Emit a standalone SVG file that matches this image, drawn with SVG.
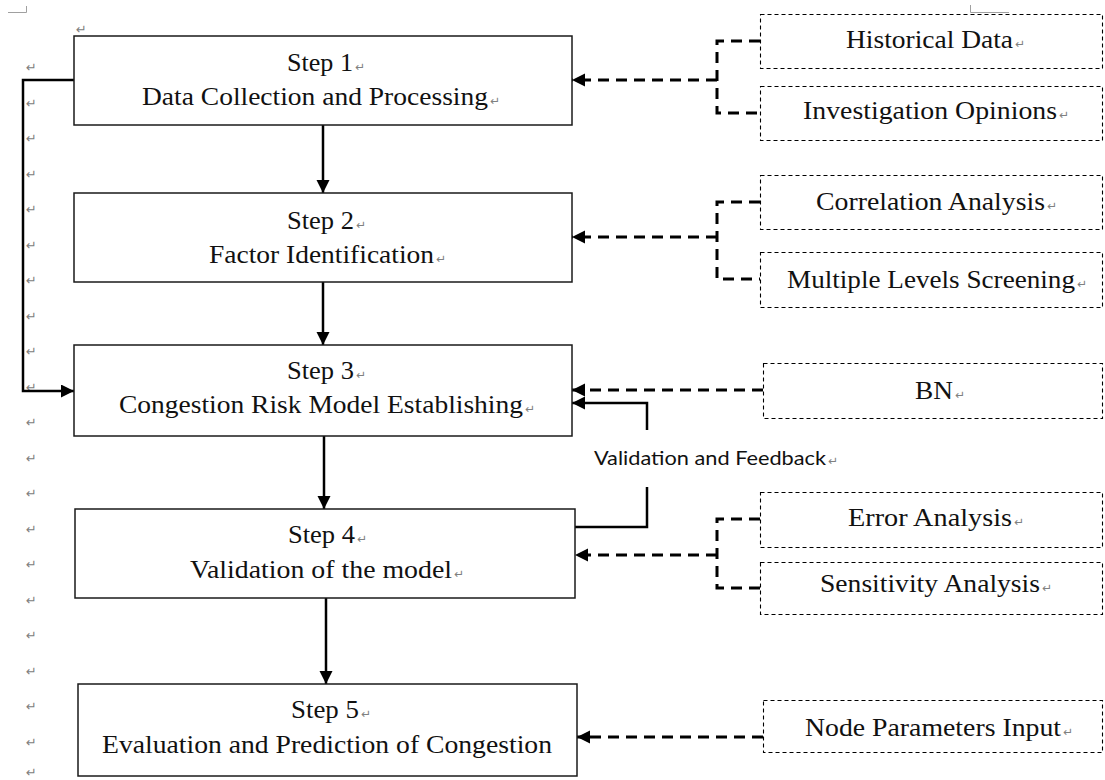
<svg xmlns="http://www.w3.org/2000/svg" width="1105" height="780" viewBox="0 0 1105 780">
  <defs>
    <style>
      .step { fill: #fff; stroke: #1a1a1a; stroke-width: 1.5; }
      .src { fill: #fff; stroke: #000; stroke-width: 1.1; stroke-dasharray: 4 3; }
      .t { font-family: "Liberation Serif", "Times New Roman", serif; font-size: 25.5px; fill: #111; }
      .pm { font-family: "DejaVu Sans", sans-serif; font-size: 12px; fill: #808080; }
      .mm { font-family: "DejaVu Sans", sans-serif; font-size: 13px; fill: #808080; }
      .lbl { font-family: Lato, "Liberation Sans", sans-serif; font-size: 20px; fill: #111; }
      .solid { fill: none; stroke: #000; stroke-width: 2.5; }
      .dash { fill: none; stroke: #000; stroke-width: 3; stroke-dasharray: 11 7; }
      .crop { fill: none; stroke: #a0a0a0; stroke-width: 1; }
    </style>
    <marker id="arrow" markerUnits="userSpaceOnUse" markerWidth="14" markerHeight="14" refX="13" refY="6.5" orient="auto">
      <path d="M0,0 L13,6.5 L0,13 Z" fill="#000"/>
    </marker>
  </defs>

  <rect width="1105" height="780" fill="#fff"/>

  <!-- page crop marks -->
  <g id="crop-marks">
    <path class="crop" d="M8,12.5 H26.5 V6"/>
    <path class="crop" d="M970.5,5 V12.5 H1009"/>
  </g>

  <!-- paragraph marks down the left margin -->
  <g id="margin-marks" class="mm">
    <text x="76" y="34">↵</text>
    <text x="26" y="72">↵</text>
    <text x="26" y="107.5">↵</text>
    <text x="26" y="143">↵</text>
    <text x="26" y="178.5">↵</text>
    <text x="26" y="214">↵</text>
    <text x="26" y="249.5">↵</text>
    <text x="26" y="285">↵</text>
    <text x="26" y="320.5">↵</text>
    <text x="26" y="356">↵</text>
    <text x="26" y="391.5">↵</text>
    <text x="26" y="427">↵</text>
    <text x="26" y="462.5">↵</text>
    <text x="26" y="498">↵</text>
    <text x="26" y="533.5">↵</text>
    <text x="26" y="569">↵</text>
    <text x="26" y="604.5">↵</text>
    <text x="26" y="640">↵</text>
    <text x="26" y="675.5">↵</text>
    <text x="26" y="711">↵</text>
    <text x="26" y="746.5">↵</text>
    <text x="26" y="777">↵</text>
  </g>

  <!-- connectors -->
  <g id="connectors">
    <!-- main flow -->
    <path class="solid" d="M323,125 V193" marker-end="url(#arrow)"/>
    <path class="solid" d="M323,282 V345" marker-end="url(#arrow)"/>
    <path class="solid" d="M324,436 V509" marker-end="url(#arrow)"/>
    <path class="solid" d="M326,598 V684" marker-end="url(#arrow)"/>
    <!-- Step 1 to Step 3 bypass -->
    <path class="solid" d="M74,80 H23 V391 H74" marker-end="url(#arrow)"/>
    <!-- validation feedback loop -->
    <path class="solid" d="M575,527 H647 V487"/>
    <path class="solid" d="M647,430 V403 H572" marker-end="url(#arrow)"/>
    <!-- inputs to Step 1 -->
    <path class="dash" d="M760,41 H717 V113 H760"/>
    <path class="dash" d="M717,80 H572" marker-end="url(#arrow)"/>
    <!-- inputs to Step 2 -->
    <path class="dash" d="M760,202 H717 V279 H760"/>
    <path class="dash" d="M717,237 H572" marker-end="url(#arrow)"/>
    <!-- input to Step 3 -->
    <path class="dash" d="M763,390 H572" marker-end="url(#arrow)"/>
    <!-- inputs to Step 4 -->
    <path class="dash" d="M760,519 H717 V588 H760"/>
    <path class="dash" d="M717,555 H575" marker-end="url(#arrow)"/>
    <!-- input to Step 5 -->
    <path class="dash" d="M763,737 H577" marker-end="url(#arrow)"/>
  </g>

  <!-- process steps -->
  <g id="step1">
    <rect class="step" x="74" y="36" width="498" height="89"/>
    <text class="t" x="287" y="71" textLength="66" lengthAdjust="spacingAndGlyphs">Step 1</text>
    <text class="pm" x="355" y="71">↵</text>
    <text class="t" x="142" y="105" textLength="346" lengthAdjust="spacingAndGlyphs">Data Collection and Processing</text>
    <text class="pm" x="490" y="105">↵</text>
  </g>
  <g id="step2">
    <rect class="step" x="74" y="193" width="498" height="89"/>
    <text class="t" x="287" y="229" textLength="67" lengthAdjust="spacingAndGlyphs">Step 2</text>
    <text class="pm" x="356" y="229">↵</text>
    <text class="t" x="209" y="263" textLength="225" lengthAdjust="spacingAndGlyphs">Factor Identification</text>
    <text class="pm" x="436" y="263">↵</text>
  </g>
  <g id="step3">
    <rect class="step" x="74" y="345" width="498" height="91"/>
    <text class="t" x="287" y="379" textLength="67" lengthAdjust="spacingAndGlyphs">Step 3</text>
    <text class="pm" x="356" y="379">↵</text>
    <text class="t" x="119" y="413" textLength="404" lengthAdjust="spacingAndGlyphs">Congestion Risk Model Establishing</text>
    <text class="pm" x="525" y="413">↵</text>
  </g>
  <g id="step4">
    <rect class="step" x="75" y="509" width="500" height="89"/>
    <text class="t" x="288" y="543" textLength="67" lengthAdjust="spacingAndGlyphs">Step 4</text>
    <text class="pm" x="357" y="543">↵</text>
    <text class="t" x="190" y="578" textLength="262" lengthAdjust="spacingAndGlyphs">Validation of the model</text>
    <text class="pm" x="454" y="578">↵</text>
  </g>
  <g id="step5">
    <rect class="step" x="78" y="684" width="499" height="92"/>
    <text class="t" x="291" y="718" textLength="68" lengthAdjust="spacingAndGlyphs">Step 5</text>
    <text class="pm" x="361" y="718">↵</text>
    <text class="t" x="102" y="753" textLength="450" lengthAdjust="spacingAndGlyphs">Evaluation and Prediction of Congestion</text>
  </g>

  <!-- feedback label -->
  <g id="feedback-label">
    <text class="lbl" x="594" y="465" textLength="232" lengthAdjust="spacingAndGlyphs">Validation and Feedback</text>
    <text class="pm" x="828" y="465">↵</text>
  </g>

  <!-- inputs and methods -->
  <g id="historical-data">
    <rect class="src" x="760.5" y="14.5" width="342" height="54"/>
    <text class="t" x="846" y="48" textLength="167" lengthAdjust="spacingAndGlyphs">Historical Data</text>
    <text class="pm" x="1015" y="48">↵</text>
  </g>
  <g id="investigation-opinions">
    <rect class="src" x="760.5" y="86.5" width="342" height="54"/>
    <text class="t" x="803" y="119" textLength="254" lengthAdjust="spacingAndGlyphs">Investigation Opinions</text>
    <text class="pm" x="1059" y="119">↵</text>
  </g>
  <g id="correlation-analysis">
    <rect class="src" x="760.5" y="175.5" width="342" height="54"/>
    <text class="t" x="816" y="210" textLength="229" lengthAdjust="spacingAndGlyphs">Correlation Analysis</text>
    <text class="pm" x="1047" y="210">↵</text>
  </g>
  <g id="multiple-levels-screening">
    <rect class="src" x="760.5" y="252.5" width="342" height="55"/>
    <text class="t" x="787" y="288" textLength="288" lengthAdjust="spacingAndGlyphs">Multiple Levels Screening</text>
    <text class="pm" x="1077" y="288">↵</text>
  </g>
  <g id="bn">
    <rect class="src" x="763.5" y="363.5" width="339" height="55"/>
    <text class="t" x="915" y="399" textLength="38" lengthAdjust="spacingAndGlyphs">BN</text>
    <text class="pm" x="955" y="399">↵</text>
  </g>
  <g id="error-analysis">
    <rect class="src" x="760.5" y="492.5" width="342" height="55"/>
    <text class="t" x="848" y="526" textLength="164" lengthAdjust="spacingAndGlyphs">Error Analysis</text>
    <text class="pm" x="1014" y="526">↵</text>
  </g>
  <g id="sensitivity-analysis">
    <rect class="src" x="760.5" y="562.5" width="342" height="52"/>
    <text class="t" x="820" y="592" textLength="220" lengthAdjust="spacingAndGlyphs">Sensitivity Analysis</text>
    <text class="pm" x="1042" y="592">↵</text>
  </g>
  <g id="node-parameters-input">
    <rect class="src" x="763.5" y="700.5" width="339" height="52"/>
    <text class="t" x="805" y="736" textLength="256" lengthAdjust="spacingAndGlyphs">Node Parameters Input</text>
    <text class="pm" x="1063" y="736">↵</text>
  </g>
</svg>
